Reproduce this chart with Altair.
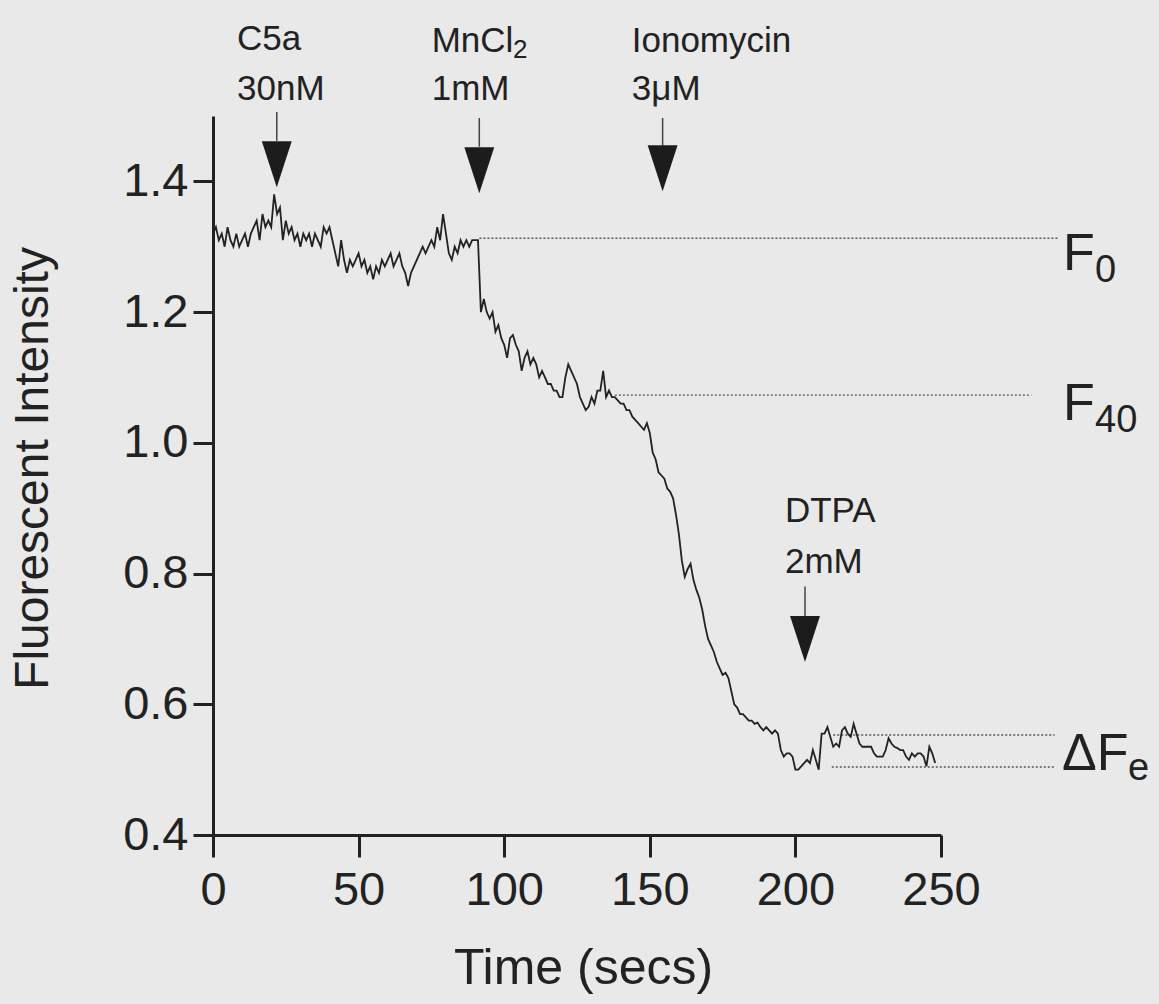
import altair as alt
import pandas as pd

# ---- trace (fluorescent intensity, one sample per second) ----
V = [
    1.32, 1.33, 1.31, 1.32, 1.30, 1.33, 1.31, 1.30, 1.32, 1.30,
    1.31, 1.32, 1.30, 1.32, 1.33, 1.34, 1.31, 1.35, 1.33, 1.34,
    1.33, 1.38, 1.35, 1.36, 1.31, 1.34, 1.32, 1.33, 1.31, 1.32,
    1.30, 1.32, 1.31, 1.32, 1.30, 1.32, 1.31, 1.30, 1.33, 1.32,
    1.33, 1.31, 1.29, 1.27, 1.31, 1.28, 1.26, 1.28, 1.27, 1.28,
    1.29, 1.27, 1.28, 1.26, 1.27, 1.25, 1.27, 1.26, 1.28, 1.27,
    1.28, 1.29, 1.27, 1.28, 1.29, 1.27, 1.26, 1.24, 1.26, 1.27,
    1.28, 1.29, 1.30, 1.29, 1.30, 1.31, 1.30, 1.33, 1.31, 1.35,
    1.32, 1.29, 1.28, 1.30, 1.29, 1.31, 1.30, 1.31, 1.30, 1.31,
    1.31, 1.31,
    1.20, 1.22, 1.20, 1.19, 1.20, 1.17, 1.18, 1.16,
    1.15, 1.13, 1.16, 1.165, 1.15, 1.14, 1.11, 1.13, 1.14, 1.12,
    1.13, 1.12, 1.10, 1.11, 1.10, 1.09, 1.09, 1.08, 1.08, 1.07,
    1.07, 1.10, 1.12, 1.11, 1.10, 1.09, 1.07, 1.06, 1.05, 1.055,
    1.07, 1.06, 1.08, 1.08, 1.11, 1.07, 1.08, 1.07, 1.07, 1.065,
    1.06, 1.06, 1.05, 1.05, 1.04, 1.035, 1.03, 1.025, 1.02, 1.03,
    1.015, 0.985, 0.975, 0.955, 0.95, 0.945, 0.93, 0.925, 0.915, 0.89,
    0.86, 0.82, 0.795, 0.807, 0.815, 0.79, 0.775, 0.763, 0.745, 0.72,
    0.70, 0.69, 0.68, 0.665, 0.655, 0.645, 0.648, 0.64, 0.62, 0.60,
    0.595, 0.585, 0.585, 0.58, 0.575, 0.575, 0.57, 0.572, 0.565, 0.56,
    0.565, 0.56, 0.555, 0.56, 0.555, 0.53, 0.52, 0.525, 0.525, 0.52,
    0.50, 0.50, 0.505, 0.51, 0.515, 0.51, 0.53, 0.515, 0.50, 0.555,
    0.555, 0.565, 0.55, 0.535, 0.54, 0.535, 0.56, 0.565, 0.555, 0.55,
    0.57, 0.555, 0.54, 0.535, 0.535, 0.535, 0.535, 0.525, 0.52, 0.52,
    0.52, 0.53, 0.548, 0.54, 0.535, 0.533, 0.53, 0.53, 0.52, 0.515,
    0.525, 0.52, 0.525, 0.525, 0.52, 0.505, 0.535, 0.525, 0.51,
]
T = list(range(len(V)))

# ---- dotted reference levels ----
REF_Y = [1.313, 1.073, 0.553, 0.504]
REF_T0 = [91.5, 138.0, 213.0, 212.5]
REF_T1 = [290.0, 281.0, 289.0, 289.0]

# ---- addition arrows ----
ARROW_T = [21.9, 91.45, 154.4, 203.3]
ARROW_TOP = [1.506, 1.497, 1.497, 0.780]
ARROW_BOT = [1.462, 1.453, 1.454, 0.735]
ARROW_HEAD = [1.426, 1.417, 1.420, 0.700]

# ---- annotation texts ----
ANN_TEXT = ["C5a", "30nM", "MnCl", "2", "1mM", "Ionomycin", "3\u03bcM", "DTPA", "2mM"]
ANN_T = [8.24, 8.24, 75.1, 103.0, 75.1, 143.8, 143.8, 196.4, 196.4]
ANN_V = [1.601, 1.5245, 1.598, 1.5887, 1.5245, 1.598, 1.5245, 0.879, 0.801]
ANN_SIZE = [35, 35, 35, 26, 35, 35, 35, 35, 35]

# ---- level labels (F0, F40, dFe) ----
LAB_TEXT = ["F", "0", "F", "40", "\u0394F", "e"]
LAB_T = [291.9, 302.9, 291.9, 302.9, 291.55, 314.2]
LAB_V = [1.2644, 1.246, 1.0349, 1.0165, 0.4994, 0.4841]
LAB_SIZE = [52, 38, 52, 38, 52, 38]

FONT = "Liberation Sans"
INK = "#222222"

trace = pd.DataFrame({"t": T, "v": V})
refs = pd.DataFrame({"t": REF_T0, "t2": REF_T1, "v": REF_Y})
arrows = pd.DataFrame({"t": ARROW_T, "v": ARROW_TOP, "v2": ARROW_BOT, "vh": ARROW_HEAD})
ann = pd.DataFrame({"t": ANN_T, "v": ANN_V, "txt": ANN_TEXT, "sz": ANN_SIZE})
labs = pd.DataFrame({"t": LAB_T, "v": LAB_V, "txt": LAB_TEXT, "sz": LAB_SIZE})

xscale = alt.Scale(domain=[0, 250], nice=False, zero=False)
yscale = alt.Scale(domain=[0.4, 1.5], nice=False, zero=False)

xaxis = alt.Axis(
    values=[0, 50, 100, 150, 200, 250], grid=False, tickSize=22, tickWidth=3,
    domainWidth=3, domainColor=INK, tickColor=INK, labelFont=FONT, labelFontSize=47,
    labelColor=INK, labelPadding=10, labelFlush=False, labelOverlap=False,
    titleFont=FONT, titleFontSize=50, titleFontWeight="normal", titleColor=INK,
    titleX=370, titleY=148, titleBaseline="alphabetic", titleAlign="center",
)
yaxis = alt.Axis(
    values=[0.4, 0.6, 0.8, 1.0, 1.2, 1.4], format=".1f", grid=False, tickSize=20,
    tickWidth=3, domainWidth=3, domainColor=INK, tickColor=INK, labelFont=FONT,
    labelFontSize=47, labelColor=INK, labelPadding=5, labelOverlap=False,
    titleFont=FONT, titleFontSize=48, titleFontWeight="normal", titleColor=INK,
    titleX=-180, titleY=352, titleAngle=270, titleAlign="center", titleBaseline="middle",
)

X = alt.X("t:Q", scale=xscale, axis=xaxis, title="Time (secs)")
Y = alt.Y("v:Q", scale=yscale, axis=yaxis, title="Fluorescent Intensity")

line = alt.Chart(trace).mark_line(color="#222222", strokeWidth=1.8).encode(x=X, y=Y)

ref_rules = alt.Chart(refs).mark_rule(
    color="#555555", strokeWidth=1.3, strokeDash=[2, 2]
).encode(x=X, x2="t2:Q", y=Y)

arrow_lines = alt.Chart(arrows).mark_rule(color="#444444", strokeWidth=1.5).encode(
    x=X, y=Y, y2="v2:Q"
)
heads = alt.Chart(arrows).mark_point(
    shape="M-0.65,-1L0.65,-1L0,1Z", filled=True, size=2116, color="#1c1c1c", opacity=1
).encode(x=X, y=alt.Y("vh:Q", scale=yscale, axis=yaxis, title="Fluorescent Intensity"))

ann_text = alt.Chart(ann).mark_text(
    align="left", baseline="alphabetic", font=FONT, color=INK
).encode(x=X, y=Y, text="txt:N", size=alt.Size("sz:Q", scale=None, legend=None))

lab_text = alt.Chart(labs).mark_text(
    align="left", baseline="alphabetic", font=FONT, color=INK
).encode(x=X, y=Y, text="txt:N", size=alt.Size("sz:Q", scale=None, legend=None))

chart = alt.layer(ref_rules, line, arrow_lines, heads, ann_text, lab_text).properties(
    width=728, height=719,
    autosize=alt.AutoSizeParams(type="none"),
    padding={"left": 213, "top": 116, "right": 218, "bottom": 169},
    background="#e9e9e9",
).configure_view(stroke=None)

chart.save("out.html", embed_options={"renderer": "svg", "actions": False})
